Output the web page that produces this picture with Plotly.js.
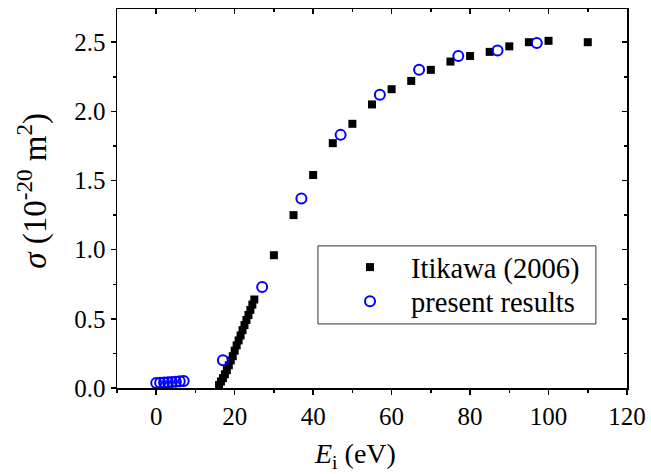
<!DOCTYPE html>
<html>
<head>
<meta charset="utf-8">
<script src="https://cdn.plot.ly/plotly-3.0.1.min.js"></script>
<style>html,body{margin:0;padding:0;background:#fff;}#chart{width:651px;height:474px;}</style>
</head>
<body>
<div id="chart"></div>
<script>
// Itikawa (2006) reference data
const itikawaE = [16, 16.5, 17, 17.5, 18, 18.5, 19, 19.5, 20, 20.5, 21, 21.5, 22, 22.5, 23, 23.5, 24, 24.5, 25,
                  30, 35, 40, 45, 50, 55, 60, 65, 70, 75, 80, 85, 90, 95, 100, 110];
const itikawaSigma = [0.021, 0.047, 0.071, 0.099, 0.129, 0.164, 0.199, 0.230, 0.270, 0.308, 0.344, 0.380, 0.418, 0.455, 0.492, 0.528, 0.565, 0.603, 0.640,
                      0.96, 1.25, 1.54, 1.77, 1.91, 2.05, 2.16, 2.22, 2.30, 2.36, 2.40, 2.43, 2.47, 2.50, 2.51, 2.50];
// present results
const presentE = [0, 1, 2, 3, 4, 5, 6, 7, 17, 27, 37, 47, 57, 67, 77, 87, 97];
const presentSigma = [0.036, 0.038, 0.040, 0.042, 0.044, 0.046, 0.048, 0.050, 0.20, 0.73, 1.37, 1.83, 2.12, 2.30, 2.40, 2.44, 2.495];

const seriesNames = ["Itikawa (2006)", "present results"];
const xTitle = "<i>E</i><sub>i</sub> (eV)";
const yTitle = "<i>σ</i> (10<sup>-20</sup> m<sup>2</sup>)";
const xRange = [-10, 120];
const yRange = [0, 2.74];

const font = "Liberation Serif, Times New Roman, serif";

const traces = [
  {x: itikawaE, y: itikawaSigma, mode: "markers", type: "scatter", name: seriesNames[0], legend: "legend",
   marker: {symbol: "square", size: 8, color: "#000"}},
  {x: presentE, y: presentSigma, mode: "markers", type: "scatter", name: seriesNames[1], legend: "legend2",
   marker: {symbol: "circle-open", size: 10, color: "#0000ff", line: {width: 2, color: "#0000ff"}}},
  {x: [], y: [], xaxis: "x2", yaxis: "y2", showlegend: false, hoverinfo: "skip", mode: "markers"}
];

const baseAxis = {
  showline: true, linecolor: "#000", linewidth: 1.5, showgrid: false, zeroline: false,
  ticklen: 5, tickwidth: 1.5, tickcolor: "#000",
  tickfont: {family: font, size: 25, color: "#000"}
};

const legendBase = {xanchor: "left", yanchor: "top", bgcolor: "rgba(0,0,0,0)", borderwidth: 0,
                    itemwidth: 72, font: {family: font, size: 28.5, color: "#000"}};

const layout = {
  width: 651, height: 474,
  margin: {l: 117, r: 24, t: 9, b: 86},
  paper_bgcolor: "#fff", plot_bgcolor: "#fff",
  font: {family: font, color: "#000"},
  showlegend: true,
  legend: Object.assign({}, legendBase, {x: 0.4157, y: 0.385}),
  legend2: Object.assign({}, legendBase, {x: 0.4157, y: 0.295}),
  xaxis: Object.assign({}, baseAxis, {
    range: xRange, dtick: 20, tick0: 0, ticks: "outside",
    minor: {dtick: 10, ticks: "outside", ticklen: 3, tickwidth: 1.5, tickcolor: "#000"},
    automargin: false
  }),
  yaxis: Object.assign({}, baseAxis, {
    range: yRange, dtick: 0.5, tick0: 0, ticks: "outside", tickformat: ".1f",
    minor: {dtick: 0.25, ticks: "outside", ticklen: 3, tickwidth: 1.5, tickcolor: "#000"},
    automargin: false
  }),
  xaxis2: Object.assign({}, baseAxis, {
    overlaying: "x", side: "top", anchor: "y", range: xRange, dtick: 20, tick0: 0, ticks: "inside",
    showticklabels: false,
    minor: {dtick: 10, ticks: "inside", ticklen: 3, tickwidth: 1.5, tickcolor: "#000"}
  }),
  yaxis2: Object.assign({}, baseAxis, {
    overlaying: "y", side: "right", anchor: "x", range: yRange, dtick: 0.5, tick0: 0, ticks: "inside",
    showticklabels: false,
    minor: {dtick: 0.25, ticks: "inside", ticklen: 3, tickwidth: 1.5, tickcolor: "#000"}
  }),
  annotations: [
    {text: xTitle, xref: "paper", yref: "paper", x: 0.467, y: -0.177, xanchor: "center", yanchor: "middle",
     showarrow: false, font: {family: font, size: 28, color: "#000"}},
    {text: yTitle, xref: "paper", yref: "paper", x: -0.165, y: 0.52, xanchor: "center", yanchor: "middle",
     textangle: -90, showarrow: false, font: {family: font, size: 33, color: "#000"}}
  ],
  shapes: [{type: "rect", xref: "paper", yref: "paper", x0: 0.394, x1: 0.939, y0: 0.169, y1: 0.375,
            line: {color: "#333", width: 1}, fillcolor: "rgba(0,0,0,0)", layer: "below"}]
};

Plotly.newPlot("chart", traces, layout, {displayModeBar: false, staticPlot: true});
</script>
</body>
</html>
